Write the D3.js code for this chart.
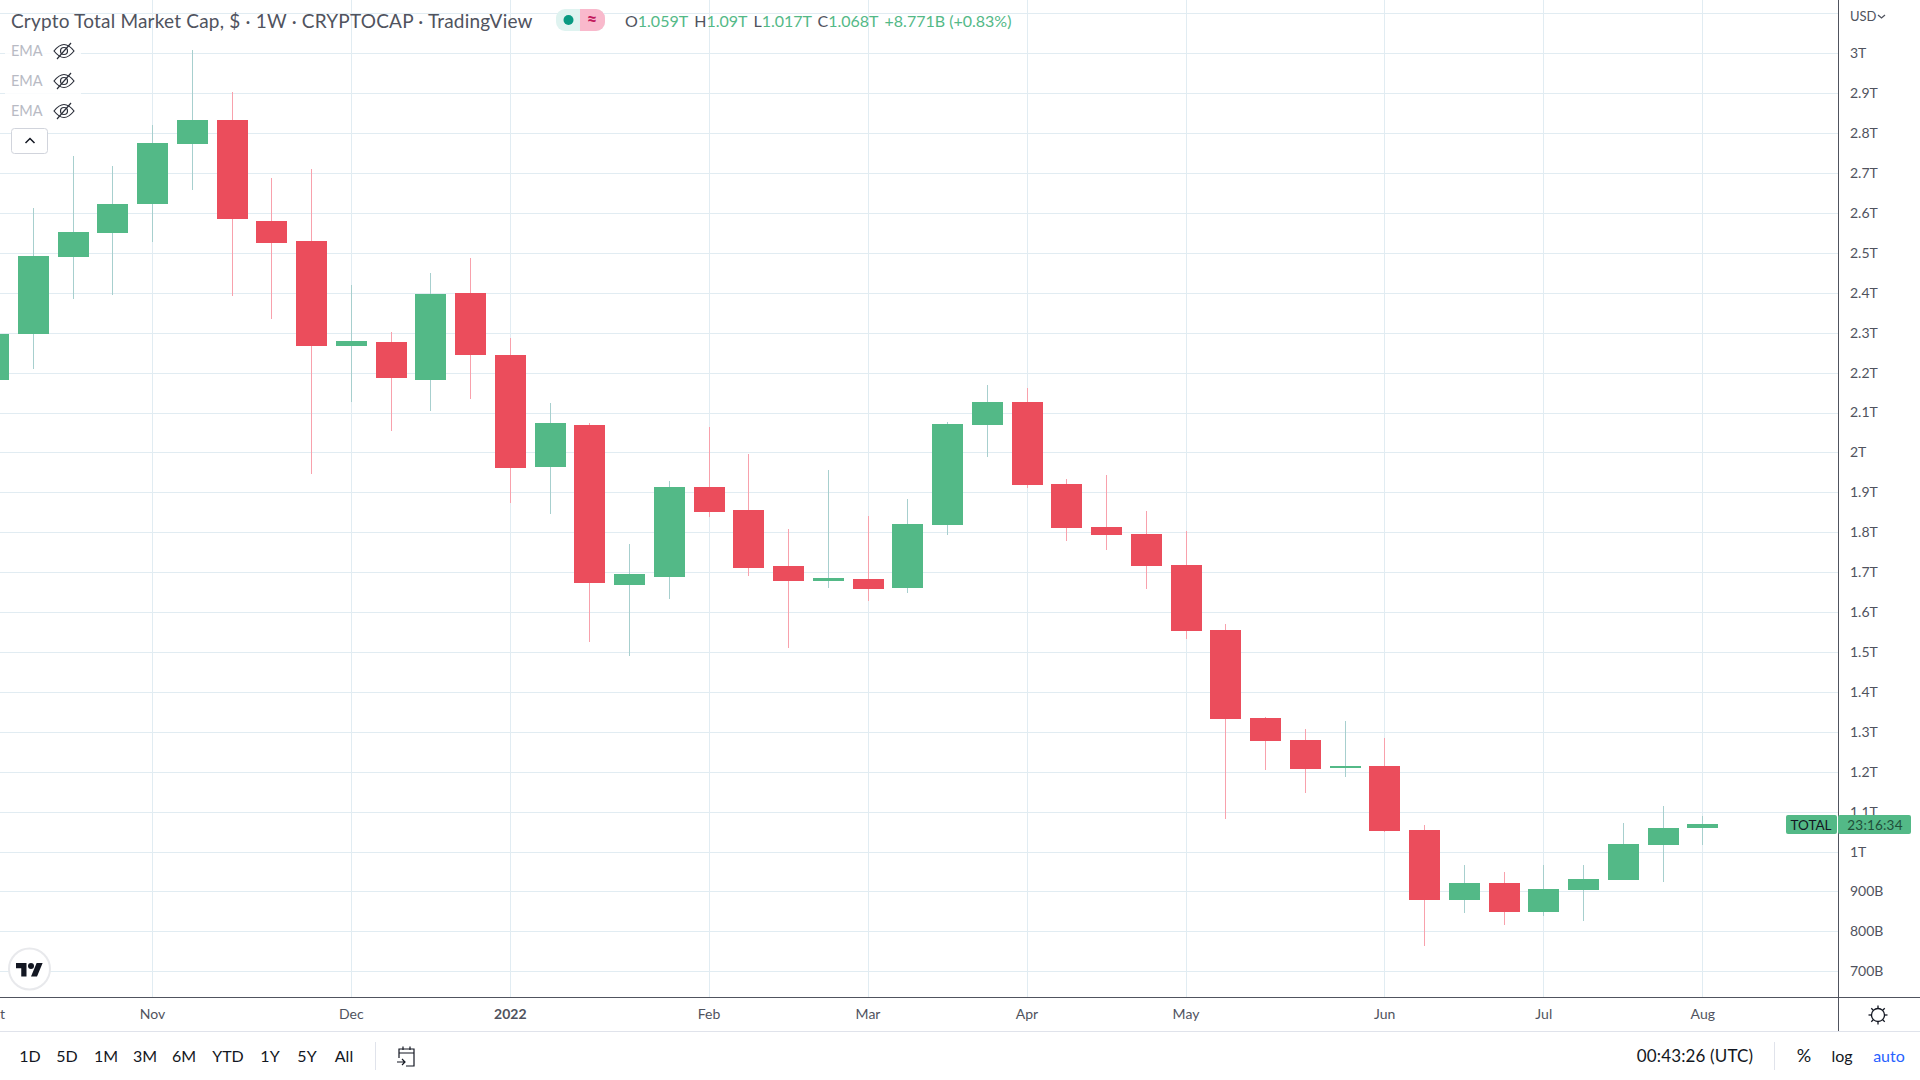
<!DOCTYPE html>
<html>
<head>
<meta charset="utf-8">
<title>Crypto Total Market Cap</title>
<script src="https://cdn.jsdelivr.net/npm/d3@7"></script>
<style>
html, body { margin: 0; padding: 0; background: #fff; overflow: hidden; }
text { font-family: Lato, "Open Sans", sans-serif; }
</style>
</head>
<body>
<div id="c"></div>
<script>
"use strict";

// weekly candles, values in trillions of USD
const opens = [2.181, 2.297, 2.490, 2.550, 2.622, 2.773, 2.833, 2.580, 2.530, 2.267, 2.277, 2.181, 2.399, 2.244, 1.963, 2.069, 1.668, 1.688, 1.913, 1.856, 1.715, 1.678, 1.683, 1.660, 1.818, 2.069, 2.126, 1.921, 1.813, 1.796, 1.718, 1.555, 1.335, 1.279, 1.209, 1.214, 1.054, 0.879, 0.921, 0.849, 0.904, 0.929, 1.016, 1.059]
const highs = [2.330, 2.612, 2.743, 2.718, 2.820, 3.008, 2.903, 2.688, 2.710, 2.419, 2.302, 2.450, 2.487, 2.287, 2.124, 2.074, 1.771, 1.928, 2.064, 1.996, 1.808, 1.956, 1.841, 1.883, 2.076, 2.169, 2.161, 1.933, 1.943, 1.853, 1.803, 1.570, 1.337, 1.307, 1.327, 1.284, 1.067, 0.966, 0.949, 0.966, 0.966, 1.072, 1.114, 1.090]
const lows = [2.140, 2.209, 2.384, 2.394, 2.527, 2.658, 2.392, 2.334, 1.946, 2.126, 2.054, 2.104, 2.134, 1.873, 1.846, 1.525, 1.490, 1.633, 1.838, 1.690, 1.510, 1.660, 1.628, 1.648, 1.793, 1.989, 1.911, 1.778, 1.756, 1.658, 1.533, 1.082, 1.204, 1.147, 1.187, 1.049, 0.763, 0.846, 0.816, 0.839, 0.826, 0.929, 0.924, 1.017]
const closes = [2.297, 2.492, 2.552, 2.622, 2.775, 2.833, 2.585, 2.525, 2.267, 2.279, 2.186, 2.397, 2.244, 1.961, 2.074, 1.673, 1.695, 1.913, 1.851, 1.710, 1.678, 1.685, 1.658, 1.821, 2.071, 2.126, 1.918, 1.811, 1.793, 1.715, 1.553, 1.332, 1.277, 1.207, 1.214, 1.051, 0.879, 0.921, 0.849, 0.906, 0.931, 1.019, 1.059, 1.068]

const priceTicks = [0.7, 0.8, 0.9, 1, 1.1, 1.2, 1.3, 1.4, 1.5, 1.6, 1.7, 1.8, 1.9, 2, 2.1, 2.2, 2.3, 2.4, 2.5, 2.6, 2.7, 2.8, 2.9, 3]
const gridPrices = priceTicks.concat([3.1])
const monthTicks = ["2021-10-04", "2021-11-01", "2021-12-06", "2022-01-03", "2022-02-07", "2022-03-07", "2022-04-04", "2022-05-02", "2022-06-06", "2022-07-04", "2022-08-01"]
const monthLabels = ["Oct", "Nov", "Dec", "2022", "Feb", "Mar", "Apr", "May", "Jun", "Jul", "Aug"]

const rangeButtons = ["1D", "5D", "1M", "3M", "6M", "YTD", "1Y", "5Y", "All"]
const ohlcLabels = ["O", "H", "L", "C"]
const ohlcValues = ["1.059T", "1.09T", "1.017T", "1.068T"]

const UP = "#53b987", DOWN = "#eb4d5c"
const UP_WICK = "#a7cfce", DOWN_WICK = "#f8a1ac"
const GRID = "#e1ecf2", AXIS = "#50535e", TEXT = "#50535e"

const W = 1920, H = 1080
const axisX = 1839, axisY = 997

const weeks = d3.utcMonday.range(new Date("2021-10-04"), new Date("2022-08-02"))
const candles = weeks.map((d, i) => ({
    date: d, open: opens[i], high: highs[i], low: lows[i], close: closes[i]
}))

const xScale = d3.scaleUtc()
    .domain([new Date("2021-11-01"), new Date("2022-08-01")])
    .range([152.01, 1702.26])
const yScale = d3.scaleLinear()
    .domain([0.6356, 3.1335])
    .range([axisY, 0])

const svg = d3.select("#c").append("svg")
    .attr("width", W).attr("height", H)
    .style("display", "block")

drawGrid()
drawCandles()
drawLegend()
drawAxes()
drawLastPrice()
drawBottomBar()

function drawGrid() {
    const g = svg.append("g").attr("shape-rendering", "crispEdges").attr("stroke", GRID)
    g.selectAll(".h").data(gridPrices).enter().append("line")
        .attr("x1", 0).attr("x2", axisX)
        .attr("y1", d => Math.round(yScale(d)) + 0.5)
        .attr("y2", d => Math.round(yScale(d)) + 0.5)
    g.selectAll(".v").data(monthTicks).enter().append("line")
        .attr("y1", 0).attr("y2", axisY)
        .attr("x1", d => Math.round(xScale(new Date(d))) + 0.5)
        .attr("x2", d => Math.round(xScale(new Date(d))) + 0.5)
}

function drawCandles() {
    const g = svg.append("g").attr("shape-rendering", "crispEdges")
    const px = d => Math.round(xScale(d.date))
    const up = d => d.close >= d.open
    g.selectAll(".wick").data(candles).enter().append("rect")
        .attr("x", px)
        .attr("width", 1)
        .attr("y", d => Math.round(yScale(d.high)))
        .attr("height", d => Math.round(yScale(d.low)) - Math.round(yScale(d.high)))
        .attr("fill", d => up(d) ? UP_WICK : DOWN_WICK)
    g.selectAll(".body").data(candles).enter().append("rect")
        .attr("x", d => px(d) - 15)
        .attr("width", 31)
        .attr("y", d => Math.round(yScale(Math.max(d.open, d.close))))
        .attr("height", d => Math.max(2, Math.round(yScale(Math.min(d.open, d.close))) - Math.round(yScale(Math.max(d.open, d.close)))))
        .attr("fill", d => up(d) ? UP : DOWN)
}

function eyeIcon(g, y) {
    const e = g.append("g")
        .attr("transform", "translate(64," + y + ")")
        .attr("fill", "none").attr("stroke", "#2a2e39").attr("stroke-width", 1.2)
    e.append("path").attr("d", "M-10 0C-6 -5 -3 -6.5 0 -6.5C3 -6.5 6 -5 10 0C6 5 3 6.5 0 6.5C-3 6.5 -6 5 -10 0Z")
    e.append("circle").attr("r", 3.5)
    e.append("path").attr("d", "M7 -8L-7 8")
}

function drawLegend() {
    const g = svg.append("g")
    // header bar
    g.append("text").attr("x", 11).attr("y", 27.5)
        .attr("font-size", 19).attr("letter-spacing", 0.2).attr("fill", TEXT)
        .text("Crypto Total Market Cap, $ · 1W · CRYPTOCAP · TradingView")

    g.append("rect").attr("x", 556).attr("y", 9).attr("width", 49).attr("height", 22).attr("rx", 9).attr("fill", "#dff3f0")
    g.append("path").attr("d", "M580 9H596A9 9 0 0 1 605 18V22A9 9 0 0 1 596 31H580Z").attr("fill", "#f9b9cc")
    g.append("circle").attr("cx", 568.5).attr("cy", 20).attr("r", 5).attr("fill", "#089981")
    g.append("text").attr("x", 592).attr("y", 26).attr("text-anchor", "middle")
        .attr("font-size", 18).attr("font-weight", 700).attr("fill", "#c2185b").text("≈")

    const ohlc = g.append("text").attr("x", 625).attr("y", 26.5).attr("font-size", 16)
    ohlcLabels.forEach((l, i) => {
        ohlc.append("tspan").attr("fill", TEXT).attr("dx", i ? 6 : 0).text(l)
        ohlc.append("tspan").attr("fill", UP).text(ohlcValues[i])
    })
    ohlc.append("tspan").attr("fill", UP).attr("dx", 6).text("+8.771B (+0.83%)")

    // indicators, faded backing over the grid
    g.append("rect").attr("x", 5).attr("y", 38).attr("width", 76).attr("height", 84).attr("fill", "#fff").attr("opacity", 0.85)
    ;[51, 81, 111].forEach(y => {
        g.append("text").attr("x", 11).attr("y", y + 5)
            .attr("font-size", 14.5).attr("fill", "#b8bac4").text("EMA")
        eyeIcon(g, y)
    })
    g.append("rect").attr("x", 11.5).attr("y", 128.5).attr("width", 36).attr("height", 25).attr("rx", 3)
        .attr("fill", "#fff").attr("stroke", "#d1d4dc")
    g.append("path").attr("d", "M25.5 143L30 138.5L34.5 143").attr("fill", "none").attr("stroke", "#131722").attr("stroke-width", 1.5)

    // tradingview badge
    g.append("circle").attr("cx", 29.5).attr("cy", 969).attr("r", 20.5)
        .attr("fill", "#fff").attr("stroke", "#e8e9ec").attr("stroke-width", 2)
    const logo = g.append("g").attr("transform", "translate(16,960) scale(0.75)").attr("fill", "#131722")
    logo.append("path").attr("d", "M14 22H7V11H0V4h14v18zM28 22h-8l7.5-18h8L28 22z")
    logo.append("circle").attr("cx", 20).attr("cy", 8).attr("r", 4)
}

function formatPrice(d) {
    return d < 1 ? Math.round(d * 1000) + "B" : d + "T"
}

function drawAxes() {
    const yAxis = svg.append("g")
        .attr("transform", "translate(" + axisX + ",0)")
        .call(d3.axisRight(yScale).tickValues(priceTicks).tickFormat(formatPrice).tickSize(0).tickPadding(11))
    const xAxis = svg.append("g")
        .attr("transform", "translate(0," + axisY + ")")
        .call(d3.axisBottom(xScale)
            .tickValues(monthTicks.map(d => new Date(d)))
            .tickFormat((d, i) => monthLabels[i])
            .tickSize(0).tickPadding(12))
    yAxis.select(".domain").remove()
    xAxis.select(".domain").remove()
    yAxis.selectAll("text").attr("font-size", 14).attr("fill", TEXT).attr("font-family", "Lato")
    xAxis.selectAll("text").attr("font-size", 14).attr("fill", TEXT).attr("font-family", "Lato")
        .attr("font-weight", (d, i) => monthLabels[i] == "2022" ? 700 : 400)

    const lines = svg.append("g").attr("shape-rendering", "crispEdges")
    lines.append("rect").attr("x", axisX - 1).attr("y", 0).attr("width", 1).attr("height", 1031).attr("fill", AXIS)
    lines.append("rect").attr("x", 0).attr("y", axisY).attr("width", W).attr("height", 1).attr("fill", AXIS)
    lines.append("rect").attr("x", 0).attr("y", 1031).attr("width", W).attr("height", 1).attr("fill", "#e0e3eb")

    svg.append("text").attr("x", 1850).attr("y", 21).attr("font-size", 13).attr("fill", TEXT).text("USD")
    svg.append("path").attr("d", "M1878 15L1881.5 18L1885 15").attr("fill", "none").attr("stroke", TEXT).attr("stroke-width", 1.3)

    // gear
    const gear = svg.append("g").attr("transform", "translate(1878,1015)")
        .attr("fill", "none").attr("stroke", "#131722").attr("stroke-width", 1.3)
    gear.append("circle").attr("r", 6.5)
    d3.range(8).forEach(i => {
        gear.append("line").attr("y1", -6.5).attr("y2", -9.5)
            .attr("transform", "rotate(" + i * 45 + ")")
    })
}

function drawLastPrice() {
    const g = svg.append("g")
    g.append("rect").attr("x", 1786).attr("y", 815).attr("width", 51).attr("height", 19).attr("rx", 2).attr("fill", UP)
    g.append("rect").attr("x", 1838).attr("y", 815).attr("width", 73).attr("height", 19).attr("rx", 2).attr("fill", UP)
    g.append("text").attr("x", 1811).attr("y", 830).attr("text-anchor", "middle")
        .attr("font-size", 13.5).attr("fill", "#131722").text("TOTAL")
    g.append("text").attr("x", 1875).attr("y", 830).attr("text-anchor", "middle")
        .attr("font-size", 13.5).attr("letter-spacing", 0.2).attr("fill", "#1f4f3a").text("23:16:34")
}

function drawBottomBar() {
    const g = svg.append("g")
    const btnX = [30, 67, 106, 145, 184, 228, 270, 307, 344]
    rangeButtons.forEach((b, i) => {
        g.append("text").attr("x", btnX[i]).attr("y", 1062).attr("text-anchor", "middle")
            .attr("font-size", 16).attr("fill", "#131722").text(b)
    })
    g.append("rect").attr("x", 375).attr("y", 1042).attr("width", 1).attr("height", 28).attr("fill", "#e0e3eb")
    g.append("rect").attr("x", 1774).attr("y", 1042).attr("width", 1).attr("height", 28).attr("fill", "#e0e3eb")

    const cal = g.append("g").attr("transform", "translate(407,1056)")
        .attr("fill", "none").attr("stroke", "#131722").attr("stroke-width", 1.2)
    cal.append("path").attr("d", "M-8 2V-7H7V10H-1M-8 -3H7M-4 -9.5V-6M3 -9.5V-6")
    cal.append("path").attr("d", "M-10 6H-2M-5 3L-2 6L-5 9")

    g.append("text").attr("x", 1695).attr("y", 1062).attr("text-anchor", "middle")
        .attr("font-size", 17).attr("letter-spacing", 0.15).attr("fill", "#131722").text("00:43:26 (UTC)")
    g.append("text").attr("x", 1804).attr("y", 1062).attr("text-anchor", "middle")
        .attr("font-size", 18).attr("fill", "#131722").text("%")
    g.append("text").attr("x", 1842).attr("y", 1062).attr("text-anchor", "middle")
        .attr("font-size", 16).attr("fill", "#131722").text("log")
    g.append("text").attr("x", 1889).attr("y", 1062).attr("text-anchor", "middle")
        .attr("font-size", 16).attr("fill", "#2962ff").text("auto")
}
</script>
</body>
</html>
